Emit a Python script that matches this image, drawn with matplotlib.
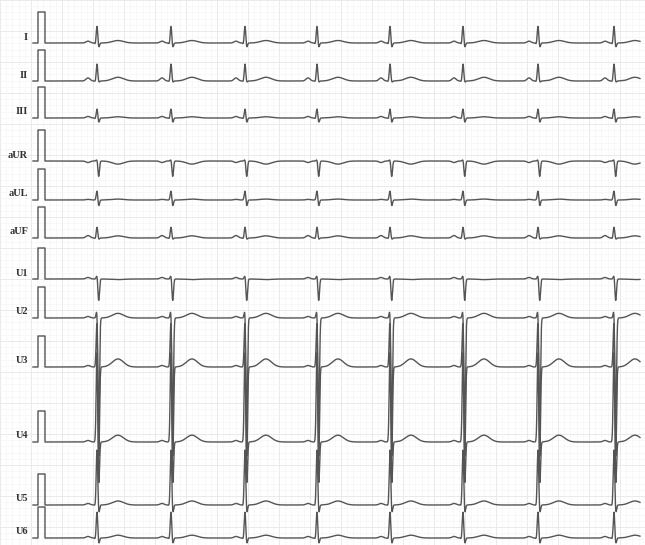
import matplotlib
matplotlib.use("Agg")
import matplotlib.pyplot as plt
import numpy as np

# paper scale: 155 px per second, 31 px per mV
px_s = 155.0
px_mv = 31.0

leads = ["I", "II", "III", "aUR", "aUL", "aUF", "U1", "U2", "U3", "U4", "U5", "U6"]
baseline_px = [43, 81, 118, 161, 200, 238, 279, 318, 367, 442, 505, 538]

# beat positions (px along the strip)
beat_px = [97, 171, 245, 317, 390, 463, 538, 614]

# wave amplitudes per lead, mV
p_amp = [0.06, 0.10, 0.05, -0.05, 0.02, 0.08, 0.05, 0.05, 0.05, 0.05, 0.05, 0.05]
q_amp = [-0.05, -0.03, -0.03, 0.0, 0.0, -0.03, 0.0, 0.0, 0.0, 0.0, -0.05, -0.05]
r_amp = [0.55, 0.55, 0.30, 0.05, 0.30, 0.35, 0.12, 0.30, 1.60, 3.00, 1.80, 0.85]
s_amp = [-0.15, -0.05, -0.15, -0.50, -0.20, -0.05, -0.70, -3.50, -3.00, -1.50, -0.30, -0.20]
t_amp = [0.08, 0.12, 0.04, -0.10, 0.03, 0.07, -0.02, 0.15, 0.26, 0.22, 0.13, 0.09]

fig = plt.figure(figsize=(6.45, 5.45), dpi=100)
ax = fig.add_axes([0, 0, 1, 1])
ax.set_xlim(0, 645 / px_s)
ax.set_ylim(-545 / px_mv, 0)
ax.axis("off")

# faint ECG paper grid
for xv in np.arange(0, 645 / px_s, 0.04):
    ax.axvline(xv, color="#f3f3f3", lw=0.4, zorder=0)
for xv in np.arange(0, 645 / px_s, 0.2):
    ax.axvline(xv, color="#e8e8e8", lw=0.6, zorder=0)
for yv in np.arange(0, -545 / px_mv, -0.2):
    ax.axhline(yv, color="#f3f3f3", lw=0.4, zorder=0)
for yv in np.arange(0, -545 / px_mv, -1.0):
    ax.axhline(yv, color="#e8e8e8", lw=0.6, zorder=0)


def g(t, c, w):
    return np.exp(-0.5 * ((t - c) / w) ** 2)


t = np.arange(47 / px_s, 640 / px_s, 0.0004)
for i, name in enumerate(leads):
    base = -baseline_px[i] / px_mv
    y = np.zeros_like(t)
    for b in beat_px:
        tb = b / px_s
        y += p_amp[i] * g(t, tb - 0.058, 0.013)
        y += q_amp[i] * g(t, tb - 0.010, 0.004)
        y += r_amp[i] * g(t, tb, 0.005)
        y += s_amp[i] * g(t, tb + 0.011, 0.005)
        y += t_amp[i] * g(t, tb + 0.135, 0.036)
    # calibration pulse
    cal_t = np.array([33, 38, 38, 45, 45, 47]) / px_s
    cal_y = np.array([0, 0, 1, 1, 0, 0])
    ax.plot(np.concatenate([cal_t, t]), base + np.concatenate([cal_y, y]),
            color="#555555", lw=1.0, zorder=2)
    ax.text(28 / px_s, base + 6 / px_mv, name, ha="right", va="center",
            fontsize=7.5, fontweight="bold", family="Liberation Serif", color="#333333")

fig.savefig("out.png", dpi=100, facecolor="white")
